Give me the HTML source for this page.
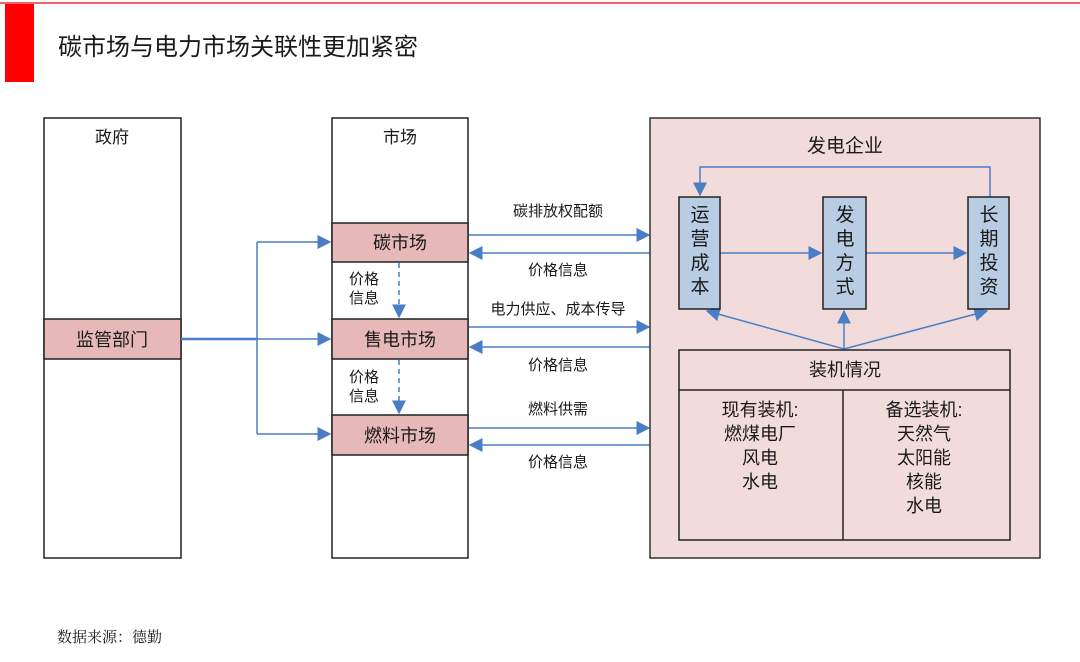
<!DOCTYPE html>
<html><head><meta charset="utf-8"><style>
html,body{margin:0;padding:0;background:#fff;}
svg{display:block;}
text{font-family:"Liberation Sans","Noto Sans CJK SC",sans-serif;fill:#1a1a1a;}
</style></head><body>
<svg width="1080" height="662" viewBox="0 0 1080 662" xmlns="http://www.w3.org/2000/svg">
<defs>
<marker id="a" viewBox="0 0 10 10" refX="9" refY="5" markerWidth="14" markerHeight="14" markerUnits="userSpaceOnUse" orient="auto"><path d="M0,0 L10,5 L0,10 z" fill="#4a7ec4"/></marker>
</defs>
<line x1="0" y1="3" x2="1080" y2="3" stroke="#f03030" stroke-width="1.5"/>
<rect x="5" y="4" width="29" height="78" fill="#ff0000"/>
<text x="58" y="55" font-size="24">碳市场与电力市场关联性更加紧密</text>

<!-- gov -->
<rect x="44" y="118" width="137" height="440" fill="#fff" stroke="#222" stroke-width="1.5"/>
<text x="112" y="143" font-size="17" text-anchor="middle">政府</text>
<rect x="44" y="319" width="137" height="40" fill="#e6b8b7" stroke="#222" stroke-width="1.5"/>
<text x="112" y="346" font-size="18" text-anchor="middle">监管部门</text>

<!-- market -->
<rect x="332" y="118" width="136" height="440" fill="#fff" stroke="#222" stroke-width="1.5"/>
<text x="400" y="143" font-size="17" text-anchor="middle">市场</text>
<rect x="332" y="223" width="136" height="39" fill="#e6b8b7" stroke="#222" stroke-width="1.5"/>
<text x="400" y="249" font-size="18" text-anchor="middle">碳市场</text>
<rect x="332" y="319" width="136" height="40" fill="#e6b8b7" stroke="#222" stroke-width="1.5"/>
<text x="400" y="346" font-size="18" text-anchor="middle">售电市场</text>
<rect x="332" y="415" width="136" height="40" fill="#e6b8b7" stroke="#222" stroke-width="1.5"/>
<text x="400" y="442" font-size="18" text-anchor="middle">燃料市场</text>

<!-- gov connectors -->
<g stroke="#4a7ec4" stroke-width="1.5" fill="none">
<line x1="181" y1="339" x2="257" y2="339" stroke-width="2.5"/>
<polyline points="257,242 257,434"/>
<line x1="257" y1="242" x2="330" y2="242" marker-end="url(#a)"/>
<line x1="257" y1="339" x2="330" y2="339" marker-end="url(#a)"/>
<line x1="257" y1="434" x2="330" y2="434" marker-end="url(#a)"/>
<line x1="399" y1="263" x2="399" y2="317" stroke-dasharray="5,4" marker-end="url(#a)"/>
<line x1="399" y1="360" x2="399" y2="413" stroke-dasharray="5,4" marker-end="url(#a)"/>
<line x1="469" y1="235" x2="649" y2="235" marker-end="url(#a)"/>
<line x1="650" y1="253" x2="470" y2="253" marker-end="url(#a)"/>
<line x1="469" y1="327" x2="649" y2="327" marker-end="url(#a)"/>
<line x1="650" y1="347" x2="470" y2="347" marker-end="url(#a)"/>
<line x1="469" y1="428" x2="649" y2="428" marker-end="url(#a)"/>
<line x1="650" y1="445" x2="470" y2="445" marker-end="url(#a)"/>
</g>
<g font-size="15">
<text x="349" y="284">价格</text><text x="349" y="303">信息</text>
<text x="349" y="382">价格</text><text x="349" y="401">信息</text>
<text x="558" y="216" text-anchor="middle">碳排放权配额</text>
<text x="558" y="275" text-anchor="middle">价格信息</text>
<text x="558" y="314" text-anchor="middle">电力供应、成本传导</text>
<text x="558" y="370" text-anchor="middle">价格信息</text>
<text x="558" y="414" text-anchor="middle">燃料供需</text>
<text x="558" y="467" text-anchor="middle">价格信息</text>
</g>

<!-- enterprise -->
<rect x="650" y="118" width="390" height="440" fill="#f2dcdb" stroke="#333" stroke-width="1.5"/>
<text x="845" y="152" font-size="19" text-anchor="middle">发电企业</text>
<g stroke="#4a7ec4" stroke-width="1.5" fill="none">
<polyline points="990,197 990,167 700,167 700,195" marker-end="url(#a)"/>
<line x1="720" y1="253" x2="821" y2="253" marker-end="url(#a)"/>
<line x1="866" y1="253" x2="966" y2="253" marker-end="url(#a)"/>
<line x1="844" y1="349" x2="844" y2="311" marker-end="url(#a)"/>
<line x1="844" y1="349" x2="707" y2="311" marker-end="url(#a)"/>
<line x1="844" y1="349" x2="987" y2="311" marker-end="url(#a)"/>
</g>
<g stroke="#222" stroke-width="1.5" fill="#b8cce4">
<rect x="679" y="197" width="41" height="112"/>
<rect x="823" y="197" width="43" height="112"/>
<rect x="968" y="197" width="41" height="112"/>
</g>
<g font-size="19" text-anchor="middle">
<text x="700" y="221">运</text><text x="700" y="245">营</text><text x="700" y="269">成</text><text x="700" y="293">本</text>
<text x="845" y="221">发</text><text x="845" y="245">电</text><text x="845" y="269">方</text><text x="845" y="293">式</text>
<text x="989" y="221">长</text><text x="989" y="245">期</text><text x="989" y="269">投</text><text x="989" y="293">资</text>
</g>
<rect x="679" y="350" width="331" height="190" fill="#f2dcdb" stroke="#222" stroke-width="1.5"/>
<line x1="679" y1="390" x2="1010" y2="390" stroke="#222" stroke-width="1.5"/>
<line x1="843" y1="390" x2="843" y2="540" stroke="#222" stroke-width="1.5"/>
<g font-size="18" text-anchor="middle">
<text x="845" y="376">装机情况</text>
<text x="760" y="416">现有装机:</text>
<text x="760" y="440">燃煤电厂</text>
<text x="760" y="464">风电</text>
<text x="760" y="488">水电</text>
<text x="924" y="416">备选装机:</text>
<text x="924" y="440">天然气</text>
<text x="924" y="464">太阳能</text>
<text x="924" y="488">核能</text>
<text x="924" y="512">水电</text>
</g>
<text x="57" y="642" font-size="15" fill="#333" style="font-family:'Liberation Serif','Noto Serif CJK SC',serif">数据来源：德勤</text>
</svg>
</body></html>
